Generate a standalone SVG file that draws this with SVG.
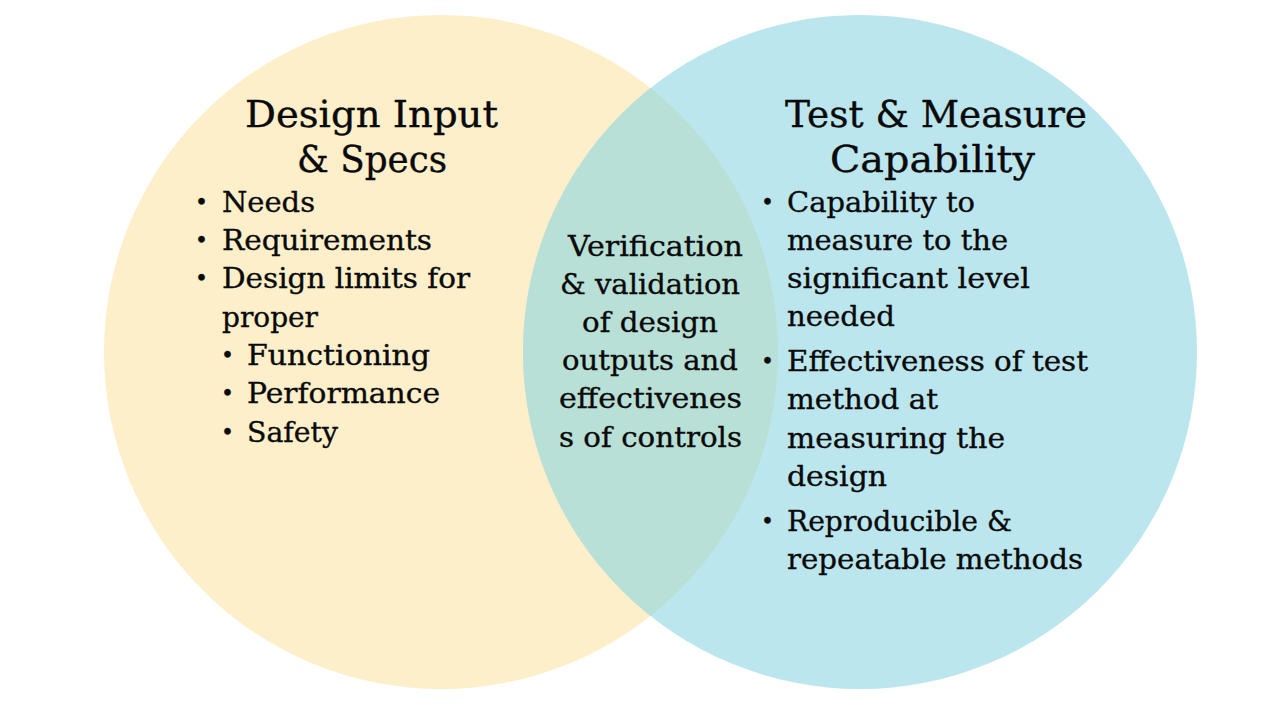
<svg xmlns="http://www.w3.org/2000/svg" width="1280" height="720" viewBox="0 0 1280 720">
<style>
text{font-family:"DejaVu Serif","Liberation Serif",serif;fill:#0a0a0a;stroke:#0a0a0a;stroke-width:0.35px;}
.t{font-size:37px;}
.b{font-size:28px;}
.d{font-size:22px;}
.m{text-anchor:middle;}
</style>
<rect width="1280" height="720" fill="#ffffff"/>
<g id="circle-left"><circle cx="441" cy="352" r="337" fill="#FCEFCA"/></g>
<g id="circle-right"><circle cx="860" cy="352" r="337" fill="#BCE6EE"/></g>
<g id="overlap"><path d="M650.5 88 A337 337 0 0 1 650.5 616 A337 337 0 0 1 650.5 88 Z" fill="#B8E0D6"/></g>
<g id="connectors"></g>
<g id="left-text">
<text class="t m" x="371.5" y="127" textLength="253" lengthAdjust="spacingAndGlyphs">Design Input</text>
<text class="t m" x="372" y="172" textLength="150" lengthAdjust="spacingAndGlyphs">&amp; Specs</text>
<text class="d" x="195" y="210">•</text>
<text class="b" x="222" y="212" textLength="93" lengthAdjust="spacingAndGlyphs">Needs</text>
<text class="d" x="195" y="248">•</text>
<text class="b" x="222" y="250" textLength="210" lengthAdjust="spacingAndGlyphs">Requirements</text>
<text class="d" x="195" y="286">•</text>
<text class="b" x="222" y="288" textLength="248" lengthAdjust="spacingAndGlyphs">Design limits for</text>
<text class="b" x="222" y="327" textLength="96" lengthAdjust="spacingAndGlyphs">proper</text>
<text class="d" x="221" y="363">•</text>
<text class="b" x="247" y="365" textLength="183" lengthAdjust="spacingAndGlyphs">Functioning</text>
<text class="d" x="221" y="401">•</text>
<text class="b" x="247" y="403" textLength="193" lengthAdjust="spacingAndGlyphs">Performance</text>
<text class="d" x="221" y="440">•</text>
<text class="b" x="247" y="442" textLength="91" lengthAdjust="spacingAndGlyphs">Safety</text>
</g>
<g id="middle-text">
<text class="b" x="568" y="256" textLength="175" lengthAdjust="spacingAndGlyphs">Verification</text>
<text class="b" x="560" y="294" textLength="180" lengthAdjust="spacingAndGlyphs">&amp; validation</text>
<text class="b" x="582" y="332" textLength="136" lengthAdjust="spacingAndGlyphs">of design</text>
<text class="b" x="562" y="370" textLength="176" lengthAdjust="spacingAndGlyphs">outputs and</text>
<text class="b" x="559" y="408" textLength="183" lengthAdjust="spacingAndGlyphs">effectivenes</text>
<text class="b" x="559" y="447" textLength="183" lengthAdjust="spacingAndGlyphs">s of controls</text>
</g>
<g id="right-text">
<text class="t m" x="936" y="127" textLength="302" lengthAdjust="spacingAndGlyphs">Test &amp; Measure</text>
<text class="t m" x="932.5" y="172" textLength="205" lengthAdjust="spacingAndGlyphs">Capability</text>
<text class="d" x="761" y="210">•</text>
<text class="b" x="787" y="212" textLength="188" lengthAdjust="spacingAndGlyphs">Capability to</text>
<text class="b" x="787" y="250" textLength="221" lengthAdjust="spacingAndGlyphs">measure to the</text>
<text class="b" x="787" y="288" textLength="243" lengthAdjust="spacingAndGlyphs">significant level</text>
<text class="b" x="787" y="326" textLength="108" lengthAdjust="spacingAndGlyphs">needed</text>
<text class="d" x="761" y="369">•</text>
<text class="b" x="787" y="371" textLength="301" lengthAdjust="spacingAndGlyphs">Effectiveness of test</text>
<text class="b" x="787" y="409" textLength="151" lengthAdjust="spacingAndGlyphs">method at</text>
<text class="b" x="787" y="448" textLength="218" lengthAdjust="spacingAndGlyphs">measuring the</text>
<text class="b" x="787" y="486" textLength="100" lengthAdjust="spacingAndGlyphs">design</text>
<text class="d" x="761" y="529">•</text>
<text class="b" x="787" y="531" textLength="225" lengthAdjust="spacingAndGlyphs">Reproducible &amp;</text>
<text class="b" x="787" y="569" textLength="296" lengthAdjust="spacingAndGlyphs">repeatable methods</text>
</g>
</svg>
